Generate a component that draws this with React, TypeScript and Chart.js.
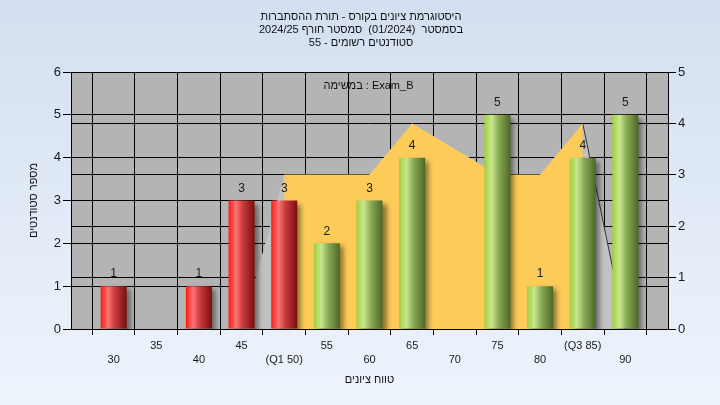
import React, { useEffect, useRef } from 'react';
import { Chart, registerables } from 'chart.js';

Chart.register(...registerables);

// ---- data ----
const TICK_LABELS = ['', '30', '35', '40', '45', '(Q1 50)', '55', '60', '65', '70', '75', '80', '(Q3 85)', '90', ''];
const COUNTS = [null, 1, 0, 1, 3, 3, 2, 3, 4, 0, 5, 1, 4, 5, null];
const CURVE = [null, null, null, null, 0, 3, 3, 3, 4, 3.5, 3, 3, 4, 0, null];
const Q1_INDEX = 5;
const Q3_INDEX = 12;
const TITLE_LINES = [
  'היסטוגרמת ציונים בקורס - תורת ההסתברות',
  'בסמסטר  (01/2024)  סמסטר חורף 2024/25',
  'סטודנטים רשומים - 55',
];
const SUBTITLE = 'במשימה : Exam_B';
const X_TITLE = 'טווח ציונים';
const Y_TITLE = 'מספר סטודנטים';
const Y_TICKS_LEFT = [0, 6];
const Y_TICKS_RIGHT = [0, 5];

const FONT = '"Liberation Sans", "DejaVu Sans", Arial, sans-serif';
const BAR_PCT = 0.61;

const IQR = CURVE.map((v, i) => (i >= Q1_INDEX && i <= Q3_INDEX ? v : null));

function barGradient(c: any) {
  const chart = c.chart;
  const xs = chart.scales && chart.scales.x;
  const red = c.dataIndex <= Q1_INDEX;
  if (!xs || c.type !== 'data' || !xs.width) return red ? '#d02020' : '#8fb840';
  const px = xs.getPixelForValue(c.dataIndex);
  const half = (xs.width / (TICK_LABELS.length - 1)) * BAR_PCT / 2;
  const g = chart.ctx.createLinearGradient(px - half, 0, px + half, 0);
  if (red) {
    g.addColorStop(0, '#ff1a1a');
    g.addColorStop(0.28, '#ff7373');
    g.addColorStop(0.55, '#c83a3a');
    g.addColorStop(1, '#7a0e0e');
  } else {
    g.addColorStop(0, '#9fd13c');
    g.addColorStop(0.28, '#c8e690');
    g.addColorStop(0.55, '#8aab55');
    g.addColorStop(1, '#4d6627');
  }
  return g;
}

const decorPlugin = {
  id: 'decor',
  beforeDraw(chart: any) {
    const { ctx, width, height, chartArea } = chart;
    ctx.save();
    const g = ctx.createLinearGradient(0, 0, 0, height);
    g.addColorStop(0, '#d3dff0');
    g.addColorStop(1, '#eef4fc');
    ctx.fillStyle = g;
    ctx.fillRect(0, 0, width, height);
    ctx.fillStyle = '#b4b4b4';
    ctx.fillRect(chartArea.left, chartArea.top, chartArea.right - chartArea.left, chartArea.bottom - chartArea.top);
    ctx.restore();
  },
  beforeDatasetDraw(chart: any, args: any) {
    if (args.index === 0) {
      const ctx = chart.ctx;
      ctx.save();
      ctx.shadowColor = 'rgba(0,0,0,0.45)';
      ctx.shadowOffsetX = 4;
      ctx.shadowOffsetY = 3;
      ctx.shadowBlur = 5;
    }
  },
  afterDatasetDraw(chart: any, args: any) {
    if (args.index === 0) chart.ctx.restore();
  },
  afterDraw(chart: any) {
    const { ctx, chartArea } = chart;
    ctx.save();
    // value labels
    const meta = chart.getDatasetMeta(0);
    ctx.font = `12px ${FONT}`;
    ctx.fillStyle = '#1a1a1a';
    ctx.textAlign = 'center';
    ctx.textBaseline = 'bottom';
    meta.data.forEach((el: any, i: number) => {
      const v = COUNTS[i];
      if (v) ctx.fillText(String(v), el.x, el.y - 6);
    });
    // titles
    ctx.direction = 'rtl';
    ctx.textBaseline = 'middle';
    ctx.fillStyle = '#111';
    ctx.font = `11px ${FONT}`;
    TITLE_LINES.forEach((t, i) => ctx.fillText(t, 361, 17 + i * 13));
    ctx.direction = 'ltr';
    const cx = (chartArea.left + chartArea.right) / 2;
    ctx.fillText(SUBTITLE, cx - 1, 86);
    ctx.fillText(X_TITLE, cx, 380);
    ctx.translate(34, (chartArea.top + chartArea.bottom) / 2);
    ctx.rotate(-Math.PI / 2);
    ctx.fillText(Y_TITLE, 0, 0);
    ctx.restore();
  },
};

export default function App() {
  const ref = useRef<HTMLCanvasElement>(null);
  useEffect(() => {
    document.body.style.margin = '0';
    const canvas = ref.current!;
    const chart = new Chart(canvas, {
      type: 'bar',
      data: {
        labels: TICK_LABELS,
        datasets: [
          {
            type: 'bar',
            data: COUNTS as any,
            backgroundColor: barGradient as any,
            borderWidth: 0,
            barPercentage: BAR_PCT,
            categoryPercentage: 1,
            yAxisID: 'y',
            order: 0,
          },
          {
            type: 'line',
            data: IQR as any,
            yAxisID: 'y1',
            fill: 'origin',
            backgroundColor: '#fdcb58',
            borderWidth: 0,
            borderColor: 'rgba(0,0,0,0)',
            pointRadius: 0,
            tension: 0,
            order: 1,
          },
          {
            type: 'line',
            data: CURVE as any,
            yAxisID: 'y1',
            fill: 'origin',
            backgroundColor: '#c2c2c2',
            borderWidth: 1,
            borderColor: 'rgba(0,0,0,0)',
            segment: {
              borderColor: (s: any) => (s.p0DataIndex >= Q3_INDEX ? '#333333' : 'rgba(0,0,0,0)'),
            },
            pointRadius: 0,
            tension: 0,
            order: 2,
          },
        ],
      },
      options: {
        responsive: false,
        animation: false,
        devicePixelRatio: 1,
        layout: { padding: { top: 72, left: 0, right: 0, bottom: 0 } },
        plugins: { legend: { display: false }, tooltip: { enabled: false }, title: { display: false } },
        scales: {
          x: {
            offset: false,
            grid: { color: '#000', lineWidth: 1, tickLength: 6, drawOnChartArea: true },
            border: { color: '#000' },
            ticks: {
              autoSkip: false,
              maxRotation: 0,
              padding: 3,
              color: '#1a1a1a',
              font: { family: FONT, size: 11, lineHeight: 1.36 },
              callback: (_v: any, i: number) => (i % 2 === 1 ? ['', TICK_LABELS[i]] : [TICK_LABELS[i], '']),
            },
            afterFit: (s: any) => { s.height = 76; },
          },
          y: {
            position: 'left',
            min: Y_TICKS_LEFT[0],
            max: Y_TICKS_LEFT[1],
            grid: { color: '#000', tickLength: 8 },
            border: { color: '#000' },
            ticks: { stepSize: 1, padding: 2, color: '#1a1a1a', font: { family: FONT, size: 13 } },
            afterFit: (s: any) => { s.width = 71; },
          },
          y1: {
            position: 'right',
            min: Y_TICKS_RIGHT[0],
            max: Y_TICKS_RIGHT[1],
            grid: { color: '#000', tickLength: 8 },
            border: { color: '#000' },
            ticks: { stepSize: 1, padding: 2, color: '#1a1a1a', font: { family: FONT, size: 13 } },
            afterFit: (s: any) => { s.width = 52; },
          },
        },
      },
      plugins: [decorPlugin],
    });
    return () => chart.destroy();
  }, []);
  return (
    <div style={{ width: 720, height: 405 }}>
      <canvas ref={ref} width={720} height={405} style={{ display: 'block' }} />
    </div>
  );
}
